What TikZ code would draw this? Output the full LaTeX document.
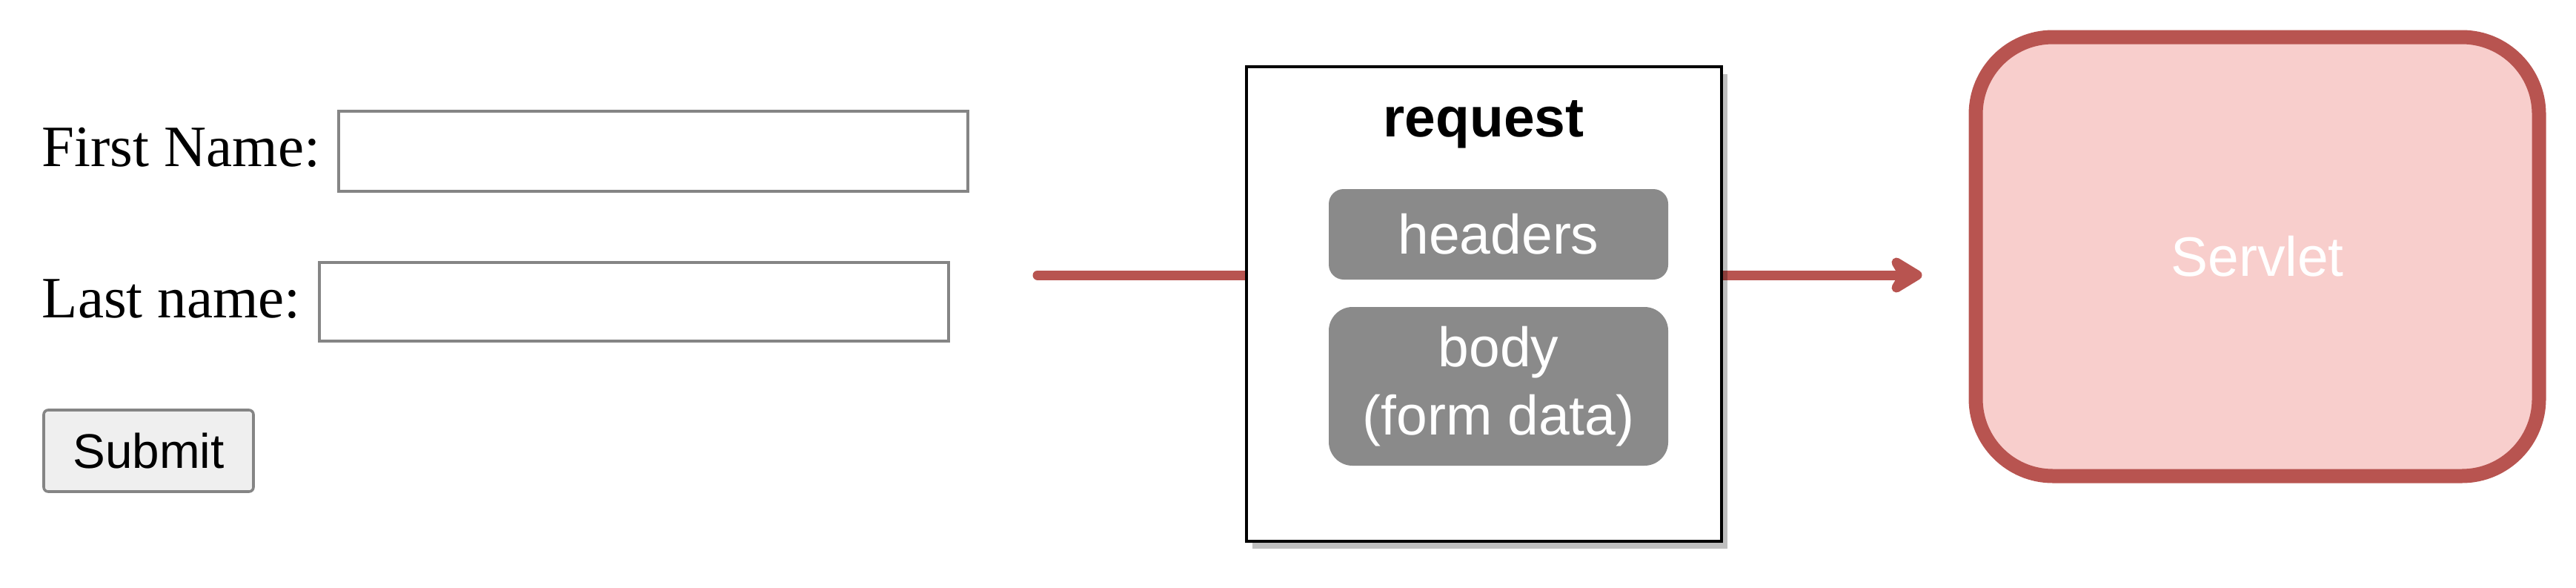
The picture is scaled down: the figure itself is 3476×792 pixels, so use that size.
\documentclass[tikz,border=0pt]{standalone}
\usepackage{fontspec}
\setmainfont{Liberation Serif}
\newfontfamily\arial{Liberation Sans}
\usetikzlibrary{shadows,backgrounds}
\definecolor{redline}{HTML}{B85450}
\definecolor{redfill}{HTML}{F8CECC}
\definecolor{inputborder}{HTML}{858585}
\definecolor{btnfill}{HTML}{EFEFEF}
\definecolor{partfill}{HTML}{8A8A8A}
\tikzset{
  inputbox/.style={draw=inputborder, line width=0.9pt, fill=white, inner sep=0pt},
  formlabel/.style={anchor=base west, inner sep=0pt, font=\fontsize{19.75pt}{23.7pt}\selectfont},
  part/.style={fill=partfill, draw=none, text=white, font=\arial\fontsize{18.75pt}{23pt}\selectfont,
    align=center, inner sep=0pt, minimum width=114.5pt},
  flow/.style={draw=redline, line width=3.25pt, line cap=round},
  flowhead/.style={draw=redline, fill=redline, line width=3.25pt, line join=round},
}
\begin{document}
\begin{tikzpicture}[x=0.25pt, y=-0.25pt]
\useasboundingbox (0,0) rectangle (3476,792);
% form
\node[formlabel] (fnlabel) at (56,224) {First Name:};
\node[inputbox, minimum width=212.25pt, minimum height=27pt] (fnbox) at (881.5,204) {};
\node[formlabel] (lnlabel) at (56,428) {Last name:};
\node[inputbox, minimum width=212.25pt, minimum height=26.5pt] (lnbox) at (855.5,407) {};
\node[draw=inputborder, line width=0.9pt, fill=btnfill, rounded corners=1.5pt, inner sep=0pt,
  minimum width=70.75pt, minimum height=27.5pt,
  font=\arial\fontsize{16.4pt}{19pt}\selectfont] (submit) at (200.5,608) {Submit};
% request
\node[draw=black, line width=1pt, fill=white, inner sep=0pt, minimum width=160.25pt, minimum height=160pt,
  drop shadow={opacity=.25, fill=black, shadow xshift=2pt, shadow yshift=-2.5pt}] (req) at (2002,410) {};
\node[anchor=base, inner sep=0pt, font=\arial\bfseries\fontsize{18.75pt}{23pt}\selectfont] (reqtitle) at (2002,184) {request};
\node[part, minimum height=30.5pt, rounded corners=5pt] (headers) at (2022,316) {headers};
\node[part, minimum height=53.5pt, rounded corners=8pt] (body) at (2022,521) {body\\(form data)};
% servlet
\node[draw=redline, fill=redfill, line width=4.75pt, rounded corners=26pt, inner sep=0pt,
  minimum width=190pt, minimum height=148pt, text=white,
  font=\arial\fontsize{18.75pt}{23pt}\selectfont] (servlet) at (3046,346) {Servlet};
% connectors
\coordinate (src) at (1400,371);
\coordinate (tip) at (2587,371);
\coordinate (notch) at (2569,371);
\begin{scope}[on background layer]
\draw[flow] (src) -- (src -| req.west);
\draw[flow] (notch -| req.east) -- (notch);
\end{scope}
\draw[flowhead] (tip) -- ++(-28,-17) -- (notch) -- ++(-10,17) -- cycle;
\end{tikzpicture}
\end{document}
